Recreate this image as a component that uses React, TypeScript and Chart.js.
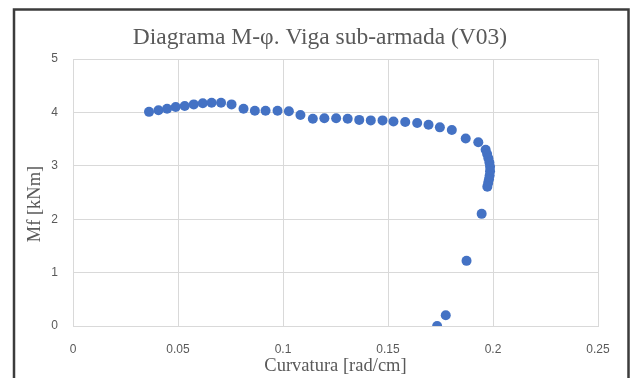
import React, { useEffect, useRef } from "react";
import { Chart, registerables } from "chart.js";

Chart.register(...registerables);

const TITLE = "Diagrama M-φ. Viga sub-armada (V03)";
const X_TITLE = "Curvatura [rad/cm]";
const Y_TITLE = "Mf [kNm]";

const curvature: number[] = [
  0.0362, 0.0407, 0.0448, 0.0489, 0.0532, 0.0575, 0.0618, 0.066, 0.0705, 0.0755,
  0.0812, 0.0866, 0.0917, 0.0974, 0.1028, 0.1083, 0.1142, 0.1197, 0.1253, 0.1308,
  0.1363, 0.1418, 0.1474, 0.1526, 0.1582, 0.1639, 0.1693, 0.1747, 0.1804, 0.187,
  0.193, 0.1965, 0.1972, 0.1978, 0.1983, 0.1986, 0.1986, 0.1984, 0.1981, 0.1977,
  0.1973, 0.1946, 0.1874, 0.1775, 0.1734,
];
const moment: number[] = [
  4.01, 4.04, 4.07, 4.1, 4.12, 4.15, 4.17, 4.18, 4.18, 4.15,
  4.07, 4.03, 4.03, 4.03, 4.02, 3.95, 3.88, 3.89, 3.89, 3.88,
  3.86, 3.85, 3.85, 3.83, 3.82, 3.8, 3.77, 3.72, 3.67, 3.51,
  3.44, 3.3, 3.22, 3.14, 3.06, 2.98, 2.9, 2.82, 2.75, 2.68,
  2.61, 2.1, 1.22, 0.2, 0.0,
];
const xTicks: number[] = [0, 0.05, 0.1, 0.15, 0.2, 0.25];
const yTicks: number[] = [0, 1, 2, 3, 4, 5];

export default function App() {
  const ref = useRef<HTMLCanvasElement | null>(null);

  useEffect(() => {
    if (!ref.current) return;
    const framePlugin = {
      id: "frame",
      beforeDraw(chart: any) {
        const ctx = chart.ctx;
        ctx.save();
        ctx.fillStyle = "#ffffff";
        ctx.fillRect(0, 0, chart.width, chart.height);
        ctx.strokeStyle = "#3c3c3c";
        ctx.lineWidth = 2.5;
        ctx.strokeRect(14, 9.5, 614.5, 400);
        ctx.restore();
      },
      afterDraw(chart: any) {
        const ctx = chart.ctx;
        ctx.save();
        ctx.fillStyle = "#595959";
        ctx.textAlign = "center";
        ctx.textBaseline = "middle";
        ctx.font = "23.5px 'Liberation Serif'";
        ctx.fillText(TITLE, 320, 38);
        ctx.translate(35, 204);
        ctx.rotate(-Math.PI / 2);
        ctx.font = "18.5px 'Liberation Serif'";
        ctx.fillText(Y_TITLE, 0, 0);
        ctx.restore();
      },
    };
    const chart = new Chart(ref.current, {
      type: "scatter",
      data: {
        datasets: [
          {
            data: curvature.map((x, i) => ({ x, y: moment[i] })),
            backgroundColor: "#4472C4",
            borderColor: "#4472C4",
            pointRadius: 5,
            pointBorderWidth: 0,
          },
        ],
      },
      options: {
        animation: false,
        responsive: false,
        maintainAspectRatio: false,
        layout: { padding: { left: 0, right: 33, top: 59, bottom: 0 } },
        plugins: {
          legend: { display: false },
          tooltip: { enabled: false },
          title: { display: false },
        },
        scales: {
          x: {
            type: "linear",
            min: 0,
            max: 0.25,
            afterBuildTicks(scale: any) {
              scale.ticks = xTicks.map((v) => ({ value: v }));
            },
            afterFit(scale: any) {
              scale.height = 52;
            },
            ticks: {
              color: "#595959",
              font: { family: "'Liberation Sans'", size: 12 },
              padding: 16,
              maxRotation: 0,
              callback: (v: any) => String(v),
            },
            grid: { color: "#d9d9d9", drawTicks: false },
            border: { color: "#d9d9d9" },
            title: {
              display: true,
              text: X_TITLE,
              color: "#595959",
              font: { family: "'Liberation Serif'", size: 18.5, lineHeight: 1.2 },
              padding: { top: 0, bottom: 1 },
            },
          },
          y: {
            type: "linear",
            min: 0,
            max: 5,
            afterBuildTicks(scale: any) {
              scale.ticks = yTicks.map((v) => ({ value: v }));
            },
            afterFit(scale: any) {
              scale.width = 73;
            },
            ticks: {
              color: "#595959",
              font: { family: "'Liberation Sans'", size: 12 },
              padding: 15,
              callback: (v: any) => String(v),
            },
            grid: { color: "#d9d9d9", drawTicks: false },
            border: { color: "#d9d9d9" },
          },
        },
      },
      plugins: [framePlugin],
    });
    return () => chart.destroy();
  }, []);

  return (
    <div style={{ position: "fixed", left: 0, top: 0, width: 631, height: 378, background: "#fff" }}>
      <canvas ref={ref} width={631} height={378} style={{ width: 631, height: 378, display: "block" }} />
    </div>
  );
}
